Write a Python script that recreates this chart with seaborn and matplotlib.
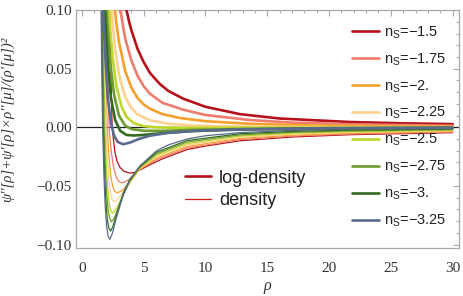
import matplotlib
matplotlib.use("Agg")
import matplotlib.pyplot as plt
import seaborn as sns
import pandas as pd
from matplotlib.lines import Line2D
from matplotlib.ticker import MultipleLocator

# ---------------- data ----------------
ns_values = ["−1.5", "−1.75", "−2.", "−2.25", "−2.5", "−2.75", "−3.", "−3.25"]
ns_colors = ["#b5121b", "#ee7d6e", "#f5a02c", "#fdd190", "#bfd62b",
             "#6c9b31", "#336a1f", "#5b6b8f"]

# log-density curves (thick)
logd_rho_a = [3.61, 3.8, 4.0, 4.5, 5.0, 5.5, 6.3, 7.0, 8.2, 10, 12.8, 16, 21.7, 26, 30]
logd_val_a = [0.1, 0.091, 0.083, 0.067, 0.0556, 0.0465, 0.037, 0.031, 0.0244, 0.0175, 0.0112, 0.0075, 0.0045, 0.0034, 0.0027]
logd_rho_b = [3.13, 3.3, 3.5, 4.0, 4.5, 5.0, 5.5, 6.5, 8.2, 10, 13.6, 17, 22, 30]
logd_val_b = [0.1, 0.088, 0.076, 0.057, 0.044, 0.035, 0.0287, 0.021, 0.015, 0.0105, 0.0062, 0.004, 0.0025, 0.0013]
logd_rho_c = [2.67, 2.8, 3.0, 3.5, 4.0, 4.5, 5.0, 5.5, 6.5, 8.0, 10, 13.6, 18, 24, 30]
logd_val_c = [0.1, 0.088, 0.073, 0.048, 0.034, 0.025, 0.0195, 0.0159, 0.0113, 0.0078, 0.0052, 0.003, 0.0017, 0.0009, 0.0005]
logd_rho_d = [2.40, 2.5, 2.7, 3.0, 3.5, 4.0, 4.5, 5.5, 7, 9, 13, 20, 30]
logd_val_d = [0.1, 0.087, 0.066, 0.045, 0.026, 0.0165, 0.011, 0.006, 0.003, 0.0015, 0.0006, 0.0002, 0.0001]
logd_rho_e = [2.18, 2.3, 2.5, 2.8, 3.2, 3.6, 4.2, 5, 6, 8, 12, 20, 30]
logd_val_e = [0.1, 0.082, 0.058, 0.035, 0.018, 0.009, 0.0035, 0.001, 0.0, -0.0004, -0.0004, -0.0002, -0.0001]
logd_rho_f = [2.0, 2.1, 2.3, 2.6, 3.0, 3.5, 4.0, 5.0, 6.5, 9, 13, 20, 30]
logd_val_f = [0.1, 0.083, 0.055, 0.028, 0.010, 0.0015, -0.0015, -0.003, -0.003, -0.0022, -0.0014, -0.0007, -0.0004]
logd_rho_g = [1.86, 1.95, 2.1, 2.35, 2.7, 3.1, 3.6, 4.2, 5.0, 6.5, 9, 13, 20, 30]
logd_val_g = [0.1, 0.082, 0.055, 0.025, 0.006, -0.003, -0.0065, -0.007, -0.0065, -0.005, -0.0032, -0.0019, -0.001, -0.0005]
logd_rho_h = [1.72, 1.80, 1.92, 2.1, 2.35, 2.6, 2.9, 3.34, 3.9, 4.6, 5.5, 7, 9, 13, 20, 30]
logd_val_h = [0.1, 0.08, 0.055, 0.025, 0.004, -0.007, -0.0125, -0.0145, -0.013, -0.010, -0.0072, -0.0047, -0.0031, -0.0017, -0.0008, -0.0004]

# density curves (thin)
dens_rho_a = [2.25, 2.32, 2.39, 2.45, 2.55, 2.67, 2.85, 3.07, 3.4, 3.88, 4.3, 4.69, 5.5, 6.5, 8.5, 10, 12.8, 17, 21.7, 30]
dens_val_a = [0.1, 0.058, 0.026, 0.0, -0.010, -0.021, -0.029, -0.034, -0.0375, -0.039, -0.0385, -0.0365, -0.032, -0.027, -0.019, -0.016, -0.0115, -0.0083, -0.0063, -0.0046]
dens_rho_b = [2.02, 2.08, 2.15, 2.20, 2.37, 2.54, 2.76, 2.97, 3.21, 3.5, 3.88, 4.3, 4.69, 6.04, 8.5, 12.8, 17, 21.7, 30]
dens_val_b = [0.1, 0.058, 0.026, 0.0, -0.020, -0.033, -0.042, -0.046, -0.0474, -0.0465, -0.044, -0.040, -0.036, -0.0277, -0.0177, -0.0105, -0.0075, -0.0057, -0.0041]
dens_rho_c = [1.88, 1.94, 2.00, 2.05, 2.18, 2.31, 2.46, 2.62, 2.80, 3.1, 3.4, 3.88, 4.69, 6.04, 8.5, 12.8, 17, 21.7, 30]
dens_val_c = [0.1, 0.058, 0.026, 0.0, -0.023, -0.039, -0.049, -0.054, -0.0559, -0.0548, -0.0525, -0.047, -0.0355, -0.0264, -0.0164, -0.0095, -0.0067, -0.005, -0.0036]
dens_rho_d = [1.79, 1.85, 1.90, 1.95, 2.06, 2.17, 2.31, 2.45, 2.61, 2.85, 3.15, 3.5, 3.88, 4.69, 6.04, 8.5, 12.8, 17, 21.7, 30]
dens_val_d = [0.1, 0.058, 0.026, 0.0, -0.027, -0.044, -0.056, -0.062, -0.0636, -0.062, -0.058, -0.0525, -0.047, -0.035, -0.0251, -0.0151, -0.0085, -0.0059, -0.0044, -0.003]
dens_rho_e = [1.72, 1.77, 1.82, 1.87, 1.97, 2.08, 2.21, 2.33, 2.48, 2.7, 3.0, 3.4, 3.88, 4.69, 6.04, 8.5, 12.8, 17, 21.7, 30]
dens_val_e = [0.1, 0.058, 0.026, 0.0, -0.031, -0.051, -0.065, -0.071, -0.0735, -0.071, -0.065, -0.056, -0.0465, -0.0345, -0.0239, -0.0139, -0.0075, -0.0051, -0.0038, -0.0025]
dens_rho_f = [1.66, 1.71, 1.76, 1.80, 1.90, 2.00, 2.13, 2.26, 2.40, 2.6, 2.9, 3.34, 3.88, 4.69, 6.04, 8.5, 12.8, 17, 21.7, 30]
dens_val_f = [0.1, 0.058, 0.026, 0.0, -0.034, -0.056, -0.071, -0.078, -0.0806, -0.078, -0.070, -0.058, -0.046, -0.034, -0.0226, -0.0126, -0.0065, -0.0043, -0.0031, -0.002]
dens_rho_g = [1.60, 1.645, 1.69, 1.73, 1.83, 1.93, 2.05, 2.18, 2.32, 2.5, 2.85, 3.35, 3.9, 4.69, 6.04, 8.5, 12.8, 17, 21.7, 30]
dens_val_g = [0.1, 0.058, 0.026, 0.0, -0.037, -0.061, -0.078, -0.086, -0.0885, -0.085, -0.073, -0.056, -0.044, -0.0335, -0.0213, -0.0113, -0.0055, -0.0035, -0.0024, -0.0015]
dens_rho_h = [1.55, 1.596, 1.641, 1.68, 1.78, 1.88, 2.00, 2.12, 2.26, 2.45, 2.80, 3.34, 3.88, 4.69, 6.04, 7.0, 8.5, 10, 12.8, 17, 21.7, 30]
dens_val_h = [0.1, 0.058, 0.026, 0.0, -0.040, -0.066, -0.084, -0.093, -0.0956, -0.091, -0.077, -0.058, -0.045, -0.033, -0.020, -0.015, -0.010, -0.0072, -0.0045, -0.0027, -0.0018, -0.001]

logd_rho = [logd_rho_a, logd_rho_b, logd_rho_c, logd_rho_d, logd_rho_e, logd_rho_f, logd_rho_g, logd_rho_h]
logd_val = [logd_val_a, logd_val_b, logd_val_c, logd_val_d, logd_val_e, logd_val_f, logd_val_g, logd_val_h]
dens_rho = [dens_rho_a, dens_rho_b, dens_rho_c, dens_rho_d, dens_rho_e, dens_rho_f, dens_rho_g, dens_rho_h]
dens_val = [dens_val_a, dens_val_b, dens_val_c, dens_val_d, dens_val_e, dens_val_f, dens_val_g, dens_val_h]

rows = []
for ns, xs, ys in zip(ns_values, dens_rho, dens_val):
    for x, y in zip(xs, ys):
        rows.append(dict(ns=ns, kind="density", rho=x, val=y))
for ns, xs, ys in zip(ns_values, logd_rho, logd_val):
    for x, y in zip(xs, ys):
        rows.append(dict(ns=ns, kind="log-density", rho=x, val=y))
df = pd.DataFrame(rows)
palette = dict(zip(ns_values, ns_colors))

# ---------------- figure ----------------
sns.set_theme(style="white")
plt.rcParams["font.family"] = ["Liberation Sans", "DejaVu Sans"]

fig = plt.figure(figsize=(4.63, 2.96), dpi=100)
ax = fig.add_axes([0.1635, 0.162, 0.8275, 0.804])

ax.axhline(0, color="#222222", lw=0.9, zorder=1)

sns.lineplot(data=df[df.kind == "density"], x="rho", y="val", hue="ns",
             hue_order=ns_values, palette=palette, estimator=None, sort=False,
             lw=0.9, legend=False, ax=ax, zorder=2)
sns.lineplot(data=df[df.kind == "log-density"], x="rho", y="val", hue="ns",
             hue_order=ns_values, palette=palette, estimator=None, sort=False,
             lw=1.9, legend=False, ax=ax, zorder=3)

ax.set_xlim(-0.5, 30.5)
ax.set_ylim(-0.103, 0.1)
ax.xaxis.set_minor_locator(MultipleLocator(1))
ax.yaxis.set_minor_locator(MultipleLocator(0.01))
ax.set_yticks([-0.10, -0.05, 0.0, 0.05, 0.10])
ax.set_yticklabels(["−0.10", "−0.05", "0.00", "0.05", "0.10"])
ax.set_xticks([0, 5, 10, 15, 20, 25, 30])
ax.set_xticklabels(["0", "5", "10", "15", "20", "25", "30"])

for sp in ax.spines.values():
    sp.set_color("#a8a8a8")
    sp.set_linewidth(0.9)
ax.tick_params(which="both", direction="in", top=True, right=True,
               color="#a8a8a8", width=0.8)
ax.tick_params(which="major", length=4.5, labelsize=11, labelcolor="#333333")
ax.tick_params(axis="x", which="major", pad=10)
ax.tick_params(axis="y", which="major", pad=3)
ax.tick_params(which="minor", length=2.5)
for lab in ax.get_xticklabels() + ax.get_yticklabels():
    lab.set_family(["Liberation Serif"])

ax.set_xlabel("ρ", family=["Liberation Serif"], style="italic", fontsize=11.5,
              color="#333333", labelpad=2)
ax.set_ylabel("ψ''[ρ]+ψ'[ρ]×ρ''[μ]/(ρ'[μ])²", family=["Liberation Serif"],
              style="italic", fontsize=10.7, color="#333333")
ax.yaxis.set_label_coords(-0.16, 0.54)

# legend for n_S
h1 = [Line2D([], [], color=c, lw=1.9) for c in ns_colors]
l1 = [r"$\mathregular{n_S}$=" + v for v in ns_values]
leg1 = ax.legend(h1, l1, loc="upper left", bbox_to_anchor=(0.721, 0.94),
                 frameon=False, fontsize=10.5, handlelength=1.85,
                 handletextpad=0.35, labelspacing=0.72, borderaxespad=0,
                 borderpad=0)
for t in leg1.get_texts():
    t.set_color("#222222")
ax.add_artist(leg1)

h2 = [Line2D([], [], color="#b5121b", lw=1.9), Line2D([], [], color="#d41c1c", lw=0.9)]
leg2 = ax.legend(h2, ["log-density", "density"], loc="upper left",
                 bbox_to_anchor=(0.285, 0.33), frameon=False, fontsize=13,
                 handlelength=1.45, handletextpad=0.44, labelspacing=0.3,
                 borderaxespad=0, borderpad=0)
for t in leg2.get_texts():
    t.set_color("#222222")

fig.savefig("out.png", dpi=100)
